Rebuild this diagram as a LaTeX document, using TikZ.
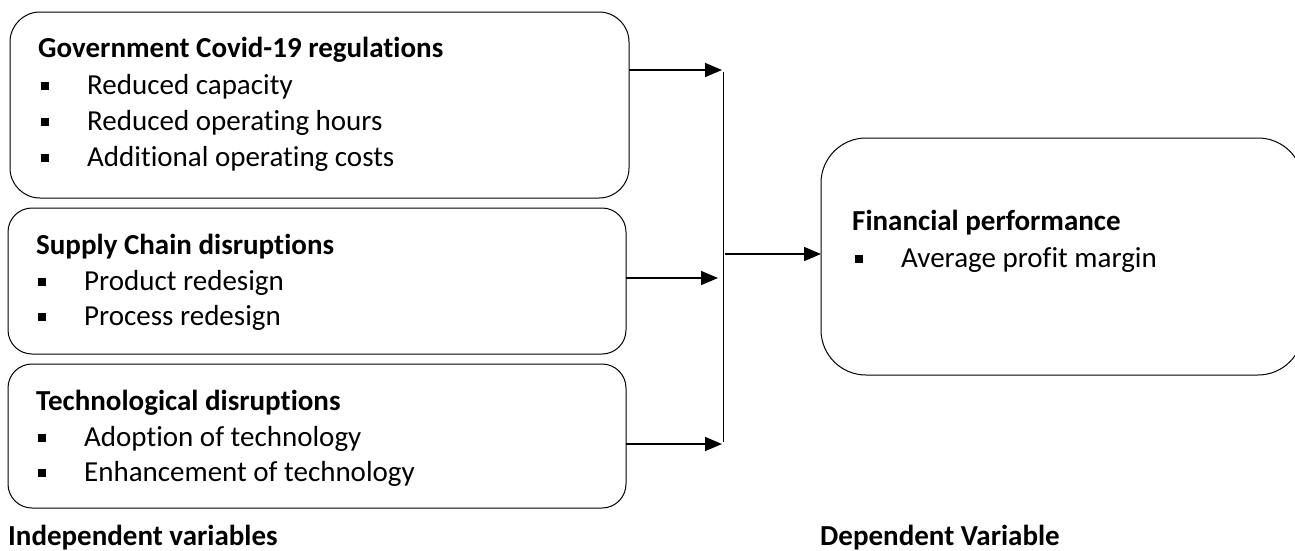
\documentclass[tikz,border=0pt]{standalone}
\usepackage{fontspec}
\setmainfont{Carlito}[Ligatures={NoCommon}]
\usetikzlibrary{arrows.meta}
\newcommand{\bulsq}{\rule[4pt]{8pt}{8pt}}
\begin{document}
\begin{tikzpicture}[x=1pt,y=-1pt,
  box/.style={draw, line width=1pt, inner sep=0pt, outer sep=0pt, anchor=north west},
  txt/.style={anchor=base west, inner sep=0pt, font=\fontsize{29}{35}\selectfont},
  ttl/.style={anchor=base west, inner sep=0pt, font=\fontsize{29}{35}\selectfont\bfseries},
  bul/.style={anchor=base west, inner sep=0pt, font=\fontsize{29}{35}\selectfont},
  conn/.style={line width=1.6pt, -{Triangle[length=17pt,width=14pt]}},
  bar/.style={line width=1pt},
]
\useasboundingbox (0,0) rectangle (1295,550);
\clip (0,0) rectangle (1295,550);

% boxes
\node[box, rounded corners=30pt, minimum width=619pt, minimum height=186pt] (gov) at (10,12) {};
\node[box, rounded corners=24pt, minimum width=618pt, minimum height=146pt] (sup) at (8,208) {};
\node[box, rounded corners=24pt, minimum width=618pt, minimum height=144pt] (tec) at (8,364) {};
\node[box, rounded corners=45pt, minimum width=482pt, minimum height=237pt] (fin) at (821,138) {};

% box 1 text
\node[ttl] (govt) at (38,57) {Government Covid-19 regulations};
\node[bul] (govb1) at (41,94) {\bulsq};
\node[txt] (gov1) at (87,94) {Reduced capacity};
\node[bul] (govb2) at (41,130) {\bulsq};
\node[txt] (gov2) at (87,130) {Reduced operating hours};
\node[bul] (govb3) at (41,166) {\bulsq};
\node[txt] (gov3) at (87,166) {Additional operating costs};

% box 2 text
\node[ttl] (supt) at (36,254) {Supply Chain disruptions};
\node[bul] (supb1) at (38,290) {\bulsq};
\node[txt] (sup1) at (84,290) {Product redesign};
\node[bul] (supb2) at (38,325) {\bulsq};
\node[txt] (sup2) at (84,325) {Process redesign};

% box 3 text
\node[ttl] (tect) at (36,410) {Technological disruptions};
\node[bul] (tecb1) at (38,446) {\bulsq};
\node[txt] (tec1) at (84,446) {Adoption of technology};
\node[bul] (tecb2) at (38,481) {\bulsq};
\node[txt] (tec2) at (84,481) {Enhancement of technology};

% box 4 text
\node[ttl] (fint) at (852,230) {Financial performance};
\node[bul] (finb1) at (855,267) {\bulsq};
\node[txt] (fin1) at (901,267) {Average profit margin};

% bottom labels
\node[ttl] (indep) at (8,545) {Independent variables};
\node[ttl] (dep) at (820,545) {Dependent Variable};

% connectors
\coordinate (j1) at (722,70);
\coordinate (j2) at (718,278);
\coordinate (j3) at (722,444);
\coordinate (vt) at (723,72);
\coordinate (vb) at (723,442);
\coordinate (m) at (725,254);
\draw[conn] (gov.east |- j1) -- (j1);
\draw[conn] (sup.east |- j2) -- (j2);
\draw[conn] (tec.east |- j3) -- (j3);
\draw[bar] (vt) -- (vb);
\draw[conn] (m) -- (fin.west |- m);
\end{tikzpicture}
\end{document}
